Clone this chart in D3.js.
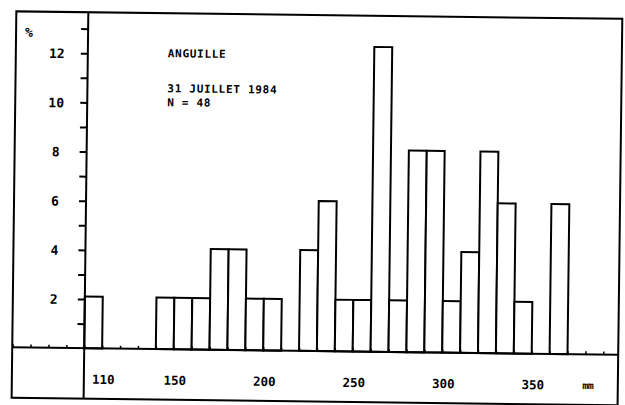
<!DOCTYPE html>
<html>
<head>
<meta charset="utf-8">
<script src="https://cdn.jsdelivr.net/npm/d3@7"></script>
<style>
  html, body { margin: 0; padding: 0; background: #fff; }
  svg { display: block; }
  text { font-family: "DejaVu Sans Mono", "Liberation Mono", monospace; font-weight: bold; fill: #000; }
</style>
</head>
<body>
<svg id="chart" width="625" height="405"></svg>
<script>
// ---- data ----
const lengthBins = [100,110,120,130,140,150,160,170,180,190,200,210,220,230,240,250,260,270,280,290,300,310,320,330,340,350,360];
const percent    = [2.1,0,0,0,2.1,2.1,2.1,4.1,4.1,2.1,2.1,0,4.1,6.1,2.1,2.1,12.4,2.1,8.2,8.2,2.1,4.1,8.2,6.1,2.1,0,6.1];
const binWidth = 10;
const xTickLabels = [110,150,200,250,300,350];
const yTickLabels = [2,4,6,8,10,12];
const yMinorTicks = [1,2,3,4,5,6,7,8,9,10,11,12,13];
const xMinorTicks = [60,70,80,90,100,110,120,130,140,150,160,170,180,190,200,210,220,230,240,250,260,270,280,290,300,310,320,330,340,350,360,370,380,390];
const titleLines = ["ANGUILLE", "31 JUILLET 1984", "N = 48"];
const yUnit = "%";
const xUnit = "mm";

// ---- layout ----
const svg = d3.select("#chart");
const g = svg.append("g").attr("transform", "rotate(0.7, 312, 205)");

const frame = {left: 14, top: 15, right: 620, bottom: 401.5};
const x = d3.scaleLinear().domain([100, 370]).range([86, 569.3]);
const y = d3.scaleLinear().domain([0, 12]).range([351, 56]);

// outer frame
g.append("rect")
  .attr("x", frame.left).attr("y", frame.top)
  .attr("width", frame.right - frame.left).attr("height", frame.bottom - frame.top)
  .attr("fill", "none").attr("stroke", "#000").attr("stroke-width", 2);

// bars
g.append("g").selectAll("rect")
  .data(lengthBins.map((b, i) => ({b, v: percent[i]})).filter(d => d.v > 0))
  .join("rect")
  .attr("x", d => x(d.b))
  .attr("y", d => y(d.v))
  .attr("width", d => x(d.b + binWidth) - x(d.b))
  .attr("height", d => y(0) - y(d.v))
  .attr("fill", "#fff").attr("stroke", "#000").attr("stroke-width", 2);

// y axis line (full height of frame)
g.append("line")
  .attr("x1", x(100)).attr("x2", x(100))
  .attr("y1", frame.top).attr("y2", frame.bottom)
  .attr("stroke", "#000").attr("stroke-width", 2);

// x axis line (full width of frame)
g.append("line")
  .attr("x1", frame.left).attr("x2", frame.right)
  .attr("y1", y(0)).attr("y2", y(0))
  .attr("stroke", "#000").attr("stroke-width", 2);

// y ticks and labels
const yAxis = d3.axisLeft(y)
  .tickValues(yMinorTicks)
  .tickSize(7)
  .tickPadding(0)
  .tickFormat(d => yTickLabels.includes(d) ? String(d) : "");
const yg = g.append("g").attr("transform", `translate(${x(100)},0)`).call(yAxis);
yg.select(".domain").remove();
yg.selectAll(".tick line").attr("stroke", "#000").attr("stroke-width", 2);
yg.selectAll(".tick text")
  .attr("x", -31).attr("dy", "0.36em")
  .attr("text-anchor", "middle")
  .style("font-family", '"DejaVu Sans Mono", monospace')
  .style("font-weight", "bold")
  .style("font-size", "13px");

// x minor ticks (small, upward)
const xMinor = d3.axisTop(x).tickValues(xMinorTicks).tickSize(3).tickFormat("");
const xmg = g.append("g").attr("transform", `translate(0,${y(0)})`).call(xMinor);
xmg.select(".domain").remove();
xmg.selectAll(".tick line").attr("stroke", "#000").attr("stroke-width", 1.5);

// x labels
const xAxis = d3.axisBottom(x).tickValues(xTickLabels).tickSize(0).tickPadding(0).tickFormat(d => String(d));
const xg = g.append("g").attr("transform", `translate(0,${y(0)})`).call(xAxis);
xg.select(".domain").remove();
xg.selectAll(".tick text")
  .attr("x", 1)
  .attr("y", 31).attr("dy", "0.36em")
  .style("font-family", '"DejaVu Sans Mono", monospace')
  .style("font-weight", "bold")
  .style("font-size", "12.5px");

// units
g.append("text").attr("x", 27).attr("y", 35.5).attr("dy", "0.36em")
  .attr("text-anchor", "middle").style("font-size", "13px").text(yUnit);
g.append("text").attr("x", 590).attr("y", 382).attr("dy", "0.36em")
  .attr("text-anchor", "middle").style("font-size", "10px").style("letter-spacing", "-0.5px").text(xUnit);

// title block
const titleY = [55, 90, 104];
g.append("g").selectAll("text")
  .data(titleLines)
  .join("text")
  .attr("x", 166).attr("y", (d, i) => titleY[i]).attr("dy", "0.36em")
  .style("font-size", "11px")
  .style("letter-spacing", "0.7px")
  .text(d => d);
</script>
</body>
</html>
